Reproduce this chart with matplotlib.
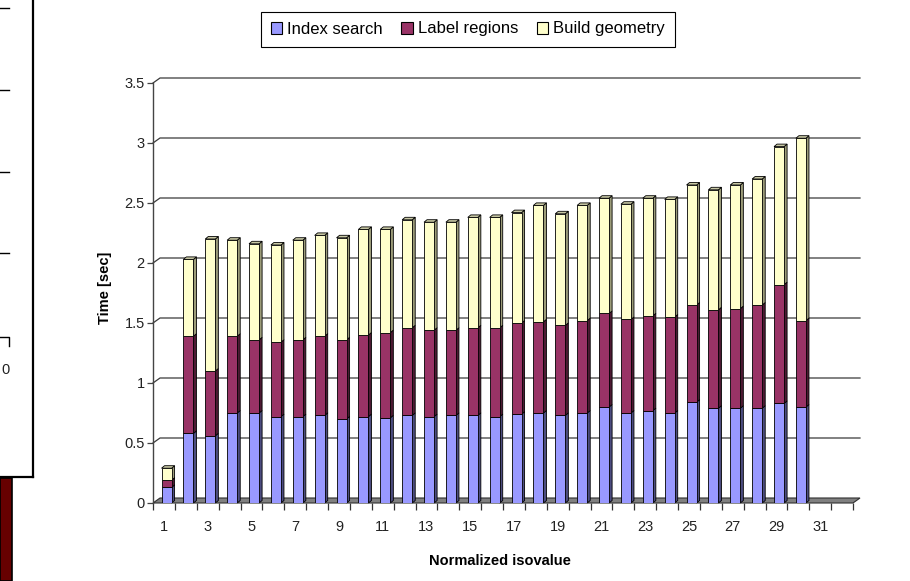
import numpy as np
import matplotlib
matplotlib.use("Agg")
import matplotlib.pyplot as plt
from matplotlib.patches import Polygon, Patch, Rectangle
from matplotlib.lines import Line2D
from matplotlib.transforms import IdentityTransform

plt.rcParams['font.family'] = ['Liberation Sans', 'DejaVu Sans']

# timings per normalized isovalue (seconds)
isovalues = np.arange(1, 31)
index_search = [0.13, 0.58, 0.56, 0.75, 0.75, 0.72, 0.72, 0.73, 0.70, 0.72,
                0.71, 0.73, 0.72, 0.73, 0.73, 0.72, 0.74, 0.75, 0.73, 0.75,
                0.80, 0.75, 0.77, 0.75, 0.84, 0.79, 0.79, 0.79, 0.83, 0.80]
label_regions = [0.06, 0.81, 0.54, 0.64, 0.61, 0.62, 0.64, 0.66, 0.66, 0.68,
                 0.71, 0.73, 0.72, 0.71, 0.73, 0.74, 0.76, 0.76, 0.75, 0.77,
                 0.78, 0.78, 0.79, 0.80, 0.81, 0.82, 0.83, 0.86, 0.99, 0.72]
build_geometry = [0.10, 0.64, 1.10, 0.80, 0.80, 0.81, 0.83, 0.84, 0.85, 0.88,
                  0.86, 0.90, 0.90, 0.90, 0.92, 0.92, 0.92, 0.97, 0.93, 0.96,
                  0.96, 0.96, 0.98, 0.98, 1.00, 1.00, 1.03, 1.05, 1.15, 1.52]
series_names = ["Index search", "Label regions", "Build geometry"]
n_categories = 32
yticks = np.arange(0, 3.51, 0.5)
ytick_labels = ["0", "0.5", "1", "1.5", "2", "2.5", "3", "3.5"]

front_colors = ["#9999ff", "#993366", "#ffffcc"]
side_colors = ["#4d4d80", "#4d1a33", "#9c9c7a"]
top_color = "#c8c8a4"

W, H = 910, 581
fig = plt.figure(figsize=(W / 100, H / 100), dpi=100)
ax = fig.add_axes([153 / W, (H - 503) / H, 700 / W, 420 / H])
ax.set_xlim(0.5, n_categories + 0.5)
ax.set_ylim(0, 3.5)
ax.set_facecolor("none")

# back wall / floor offsets in pixels
wall_dx, wall_dy = 7, 5
bar_dx, bar_dy = 3, 2.5
bar_w = 0.46
bar_shift = 0.12


def poly(pts, fc, z, ec="black", lw=0.6):
    ax.add_patch(Polygon(pts, closed=True, transform=IdentityTransform(),
                         facecolor=fc, edgecolor=ec, lw=lw, zorder=z,
                         clip_on=False))


td = ax.transData

# back wall grid lines
for v in yticks[1:]:
    p0 = td.transform((0.5, v))
    p1 = td.transform((n_categories + 0.5, v))
    xs = [p0[0], p0[0] + wall_dx, p1[0] + wall_dx]
    ys = [p0[1], p0[1] + wall_dy, p1[1] + wall_dy]
    ax.add_line(Line2D(xs, ys, transform=IdentityTransform(), color="#3a3a3a",
                       lw=0.9, zorder=1, clip_on=False))

# floor
f0 = td.transform((0.5, 0))
f1 = td.transform((n_categories + 0.5, 0))
poly([f0, f1, f1 + (wall_dx, wall_dy), f0 + (wall_dx, wall_dy)],
     "#808080", 2, ec="#303030", lw=0.8)

# stacked 3D bars
bottoms = np.zeros(len(isovalues))
stacks = [index_search, label_regions, build_geometry]
xpos = isovalues + bar_shift
for k, vals in enumerate(stacks):
    vals = np.asarray(vals)
    ax.bar(xpos, vals, bottom=bottoms, width=bar_w, color=front_colors[k],
           edgecolor="black", lw=0.6, zorder=4)
    for x, b, h in zip(xpos, bottoms, vals):
        lb = td.transform((x - bar_w / 2, b))
        rb = td.transform((x + bar_w / 2, b))
        rt = td.transform((x + bar_w / 2, b + h))
        lt = td.transform((x - bar_w / 2, b + h))
        poly([rb, rb + (bar_dx, bar_dy), rt + (bar_dx, bar_dy), rt],
             side_colors[k], 3)
        if k == len(stacks) - 1:
            poly([lt, lt + (bar_dx, bar_dy), rt + (bar_dx, bar_dy), rt],
                 top_color, 3)
    bottoms = bottoms + vals

# axes styling
for side in ["top", "right", "bottom"]:
    ax.spines[side].set_visible(False)
ax.spines["left"].set_color("#444444")
ax.spines["left"].set_linewidth(1.0)
ax.set_yticks(yticks)
ax.set_yticklabels(ytick_labels)
ax.tick_params(axis="y", length=4, width=0.9, color="#444444",
               labelsize=10.5, labelcolor="#222222", pad=2)

odd = np.arange(1, n_categories + 1, 2)
ax.set_xticks(odd)
ax.set_xticklabels([str(v) for v in odd])
ax.set_xticks(np.arange(0.5, n_categories + 1, 1), minor=True)
ax.tick_params(axis="x", which="major", length=0, pad=12, labelsize=10.5,
               labelcolor="#222222")
ax.tick_params(axis="x", which="minor", length=5, width=0.9, color="#333333")

fig.text(105 / W, 1 - 288 / H, "Time [sec]", rotation=90, fontsize=10.5,
         fontweight="bold", ha="center", va="center")
fig.text(500 / W, 1 - 561 / H, "Normalized isovalue", fontsize=10.5,
         fontweight="bold", ha="center", va="center")

handles = [Patch(facecolor=c, edgecolor="black", lw=0.8, label=n)
           for c, n in zip(front_colors, series_names)]
leg = fig.legend(handles=handles, loc="center",
                 bbox_to_anchor=(468 / W, 1 - 29 / H), ncol=3, fontsize=12,
                 frameon=True, fancybox=False, edgecolor="black",
                 framealpha=1, handlelength=0.7, handleheight=0.7,
                 handletextpad=0.3, columnspacing=1.1, borderpad=0.6,
                 borderaxespad=0)
leg.get_frame().set_linewidth(0.8)


# neighbouring panel at the left edge
def fx(x):
    return x / W


def fy(y):
    return 1 - y / H


def fline(xs, ys, lw=1.3):
    fig.add_artist(Line2D([fx(x) for x in xs], [fy(y) for y in ys],
                          transform=fig.transFigure, color="black", lw=lw))


fline([33, 33], [0, 477], lw=1.6)
fline([0, 33], [477, 477], lw=1.6)
for ty in [8, 90, 172, 253]:
    fline([0, 9], [ty, ty], lw=1.0)
fline([0, 9, 9], [337, 337, 346], lw=1.0)
fig.text(fx(1), fy(370), "0", fontsize=10.5, ha="left", va="center",
         color="#222222")
fig.add_artist(Rectangle((fx(0), 0), fx(12), fy(478), transform=fig.transFigure,
                         facecolor="#660000", edgecolor="black", lw=1.2))

fig.savefig("out.png", dpi=100)
